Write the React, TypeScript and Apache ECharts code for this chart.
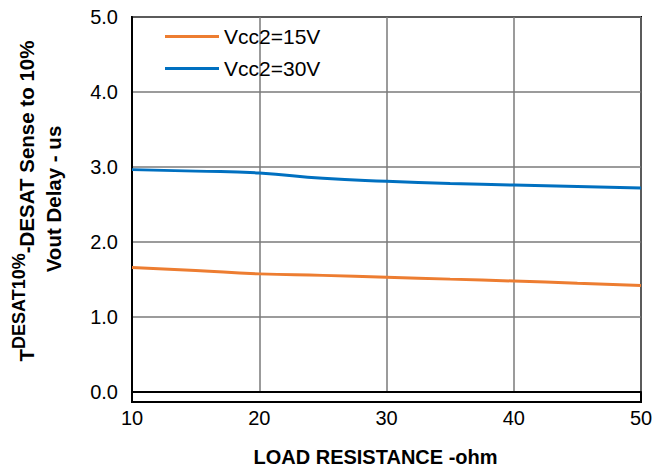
import React, { useEffect, useRef } from "react";
import * as echarts from "echarts";

const xValues = [10, 15, 20, 25, 30, 35, 40, 45, 50];
const vcc15 = [1.66, 1.62, 1.575, 1.555, 1.53, 1.505, 1.48, 1.45, 1.42];
const vcc30 = [2.965, 2.945, 2.92, 2.85, 2.81, 2.78, 2.76, 2.74, 2.72];
const seriesNames = ["Vcc2=15V", "Vcc2=30V"];
const xTitle = "LOAD RESISTANCE -ohm";
const yTitleMain = "T";
const yTitleSub = "DESAT10%";
const yTitleRest = "-DESAT Sense to 10%";
const yTitleLine2 = "Vout Delay - us";

export default function App() {
  const ref = useRef<HTMLDivElement>(null);
  useEffect(() => {
    document.body.style.margin = "0";
    const chart = echarts.init(ref.current!, null, { renderer: "svg" });
    const font = "Liberation Sans, Arial, sans-serif";
    chart.setOption({
      animation: false,
      textStyle: { fontFamily: font },
      grid: { left: 132, right: 27, top: 17, bottom: 70 },
      legend: {
        left: 160,
        top: 21,
        orient: "vertical",
        itemWidth: 54,
        itemHeight: 3,
        itemGap: 11,
        icon: "rect",
        textStyle: { fontSize: 21, color: "#000", fontFamily: font },
        data: seriesNames,
      },
      xAxis: {
        type: "value",
        min: 10,
        max: 50,
        interval: 10,
        name: xTitle,
        nameLocation: "middle",
        nameGap: 55,
        nameTextStyle: { fontSize: 20, fontWeight: "bold", color: "#000", padding: [0, 22, 0, 0] },
        axisLine: { show: true, lineStyle: { color: "#000", width: 2 } },
        axisTick: { show: false },
        axisLabel: { fontSize: 20, color: "#000", margin: 16 },
        splitLine: { show: true, lineStyle: { color: "#7a7a7a", width: 1.5 } },
      },
      yAxis: {
        type: "value",
        min: 0,
        max: 5,
        interval: 1,
        axisLine: { show: true, lineStyle: { color: "#000", width: 2 } },
        axisTick: { show: false },
        axisLabel: { fontSize: 20, color: "#000", margin: 14, formatter: (v: number) => v.toFixed(1) },
        splitLine: { show: true, lineStyle: { color: "#7a7a7a", width: 1.5 } },
      },
      graphic: [
        {
          type: "rect",
          shape: { x: 132, y: 17, width: 509, height: 385 },
          style: { fill: "none", stroke: "#000", lineWidth: 2 },
          silent: true,
        },
        {
          type: "text",
          x: 25,
          y: 201,
          rotation: Math.PI / 2,
          style: {
            text: `{t|${yTitleMain}}{s|${yTitleSub}}{t|${yTitleRest}}`,
            align: "center",
            verticalAlign: "middle",
            fontFamily: font,
            rich: {
              t: { fontSize: 20.5, fontWeight: "bold", fill: "#000", lineHeight: 24, verticalAlign: "bottom", fontFamily: font },
              s: { fontSize: 18, fontWeight: "bold", fill: "#000", lineHeight: 18, padding: [0, 0, 9, 0], verticalAlign: "bottom", fontFamily: font },
            },
          },
        },
        {
          type: "text",
          x: 53,
          y: 199,
          rotation: Math.PI / 2,
          style: {
            text: yTitleLine2,
            align: "center",
            verticalAlign: "middle",
            fontSize: 20.5,
            fontWeight: "bold",
            fill: "#000",
            fontFamily: font,
          },
        },
      ],
      series: [
        {
          name: seriesNames[0],
          type: "line",
          smooth: true,
          showSymbol: false,
          data: xValues.map((x, i) => [x, vcc15[i]]),
          lineStyle: { color: "#ED7D31", width: 3 },
          itemStyle: { color: "#ED7D31" },
        },
        {
          name: seriesNames[1],
          type: "line",
          smooth: true,
          showSymbol: false,
          data: xValues.map((x, i) => [x, vcc30[i]]),
          lineStyle: { color: "#0070C0", width: 3 },
          itemStyle: { color: "#0070C0" },
        },
      ],
    });
    return () => chart.dispose();
  }, []);
  return <div ref={ref} style={{ width: 668, height: 472 }} />;
}
